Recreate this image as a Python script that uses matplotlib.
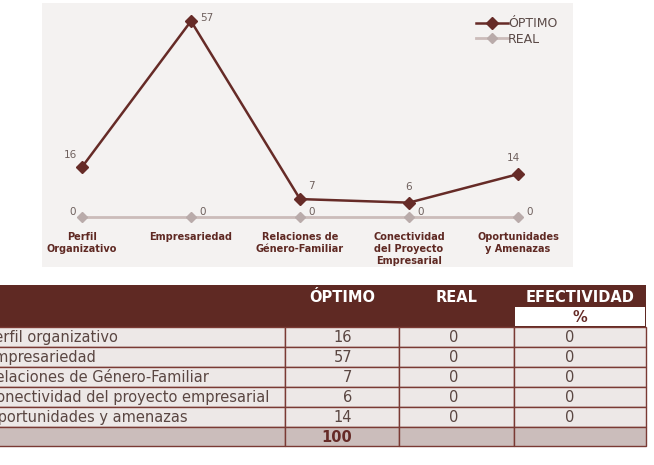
import matplotlib
matplotlib.use("Agg")
import matplotlib.pyplot as plt
from matplotlib.patches import Rectangle

categories = ["Perfil\nOrganizativo", "Empresariedad", "Relaciones de\nGénero-Familiar",
              "Conectividad\ndel Proyecto\nEmpresarial", "Oportunidades\ny Amenazas"]
optimo = [16, 57, 7, 6, 14]
real = [0, 0, 0, 0, 0]

row_names = ["Perfil organizativo", "Empresariedad", "Relaciones de Género-Familiar",
             "Conectividad del proyecto empresarial", "Oportunidades y amenazas"]
efectividad = [0, 0, 0, 0, 0]
total_optimo = sum(optimo)

dark = "#662b27"
real_line = "#cbbcba"
real_mark = "#b9abaa"
lab_col = "#6e605d"
W, H = 654, 465

fig = plt.figure(figsize=(W / 100, H / 100), dpi=100)

# ---- table drawn in pixel coordinates on a background axes
tb = fig.add_axes([0, 0, 1, 1])
tb.set_xlim(0, W)
tb.set_ylim(H, 0)
tb.axis("off")

col_x = [-5, 285, 399, 514, 646]
head_top, head_bot = 285, 327
row_h = 20
fs = 10.5

tb.add_patch(Rectangle((col_x[0], head_top), col_x[-1] - col_x[0], head_bot - head_top,
                       facecolor="#5f2923", edgecolor="none"))
tb.add_patch(Rectangle((col_x[3] + 1, 307), col_x[4] - col_x[3] - 2, 19,
                       facecolor="white", edgecolor="none"))
hdr = dict(color="white", fontsize=fs, fontweight="bold", ha="center", va="center")
tb.text((col_x[1] + col_x[2]) / 2, 297, "ÓPTIMO", **hdr)
tb.text((col_x[2] + col_x[3]) / 2, 297, "REAL", **hdr)
tb.text((col_x[3] + col_x[4]) / 2, 297, "EFECTIVIDAD", **hdr)
tb.text((col_x[3] + col_x[4]) / 2, 317, "%", color=dark, fontsize=fs,
        fontweight="bold", ha="center", va="center")

cell_txt = dict(color="#5a4642", fontsize=fs, va="center")
for i, name in enumerate(row_names):
    y0 = head_bot + i * row_h
    for c in range(4):
        tb.add_patch(Rectangle((col_x[c], y0), col_x[c + 1] - col_x[c], row_h,
                               facecolor="#ede8e7", edgecolor="#7a3a34", lw=1))
    yc = y0 + row_h / 2
    tb.text(-14, yc, name, ha="left", **cell_txt)
    tb.text(352, yc, str(optimo[i]), ha="right", **cell_txt)
    tb.text(454, yc, str(real[i]), ha="center", **cell_txt)
    tb.text(570, yc, str(efectividad[i]), ha="center", **cell_txt)

y0 = head_bot + len(row_names) * row_h
for c in range(4):
    tb.add_patch(Rectangle((col_x[c], y0), col_x[c + 1] - col_x[c], 19,
                           facecolor="#cbbdbb", edgecolor="#7a3a34", lw=1))
tb.text(352, y0 + 10, str(total_optimo), ha="right", color=dark, fontsize=fs,
        fontweight="bold", va="center")

# ---- line chart
left, right, top, bottom = 42, 573, 3, 267
rect = [left / W, 1 - bottom / H, (right - left) / W, (bottom - top) / H]
ax = fig.add_axes(rect)
ax.set_facecolor("#f4f2f1")
for s in ax.spines.values():
    s.set_visible(False)
ax.set_xticks([])
ax.set_yticks([])

px_x = 109.0
px_y = 3.56
x = list(range(len(categories)))
ax.set_xlim(-(82 - left) / px_x, 4 + (right - 518) / px_x)
ax.set_ylim((224 - bottom) / px_y, (224 - top) / px_y)

# the REAL series sits on its own (secondary) scale, as in the source chart
ax2 = ax.twinx()
ax2.set_ylim((217 - bottom) / px_y, (217 - top) / px_y)
ax2.axis("off")

l_real, = ax2.plot(x, real, color=real_line, lw=2, marker="D", ms=5.5,
                   mfc=real_mark, mec=real_mark, label="REAL")
l_opt, = ax.plot(x, optimo, color=dark, lw=1.8, marker="D", ms=6,
                 mfc=dark, mec=dark, label="ÓPTIMO", zorder=5)

# data labels (offsets in points)
opt_off = [(-8.5, 8.5), (11.5, 2.5), (8, 9.5), (0, 11), (-3, 11.5)]
for xi, v, (dx, dy) in zip(x, optimo, opt_off):
    ax.annotate(str(v), (xi, v), xytext=(dx, dy), textcoords="offset points",
                ha="center", va="center", fontsize=7.5, color=lab_col)
real_off = [(-7, 3.5), (8.5, 3.5), (8.5, 3.5), (8.5, 3.5), (8.5, 3.5)]
for xi, v, (dx, dy) in zip(x, real, real_off):
    ax2.annotate(str(v), (xi, v), xytext=(dx, dy), textcoords="offset points",
                 ha="center", va="center", fontsize=7.5, color=lab_col)

for xi, lab in zip(x, categories):
    ax.text(xi, (224 - 232) / px_y, lab, ha="center", va="top", fontsize=7,
            fontweight="bold", color="#5f2923", linespacing=1.25)

ax2.legend(handles=[l_opt, l_real], loc="upper left",
           bbox_to_anchor=((470 - left) / (right - left), 1 - (11 - top) / (bottom - top)),
           frameon=False, fontsize=9, handlelength=2.5, handletextpad=0.05,
           labelspacing=0.2, borderpad=0, labelcolor="#5a4a47")

fig.savefig("out.png", dpi=100)
